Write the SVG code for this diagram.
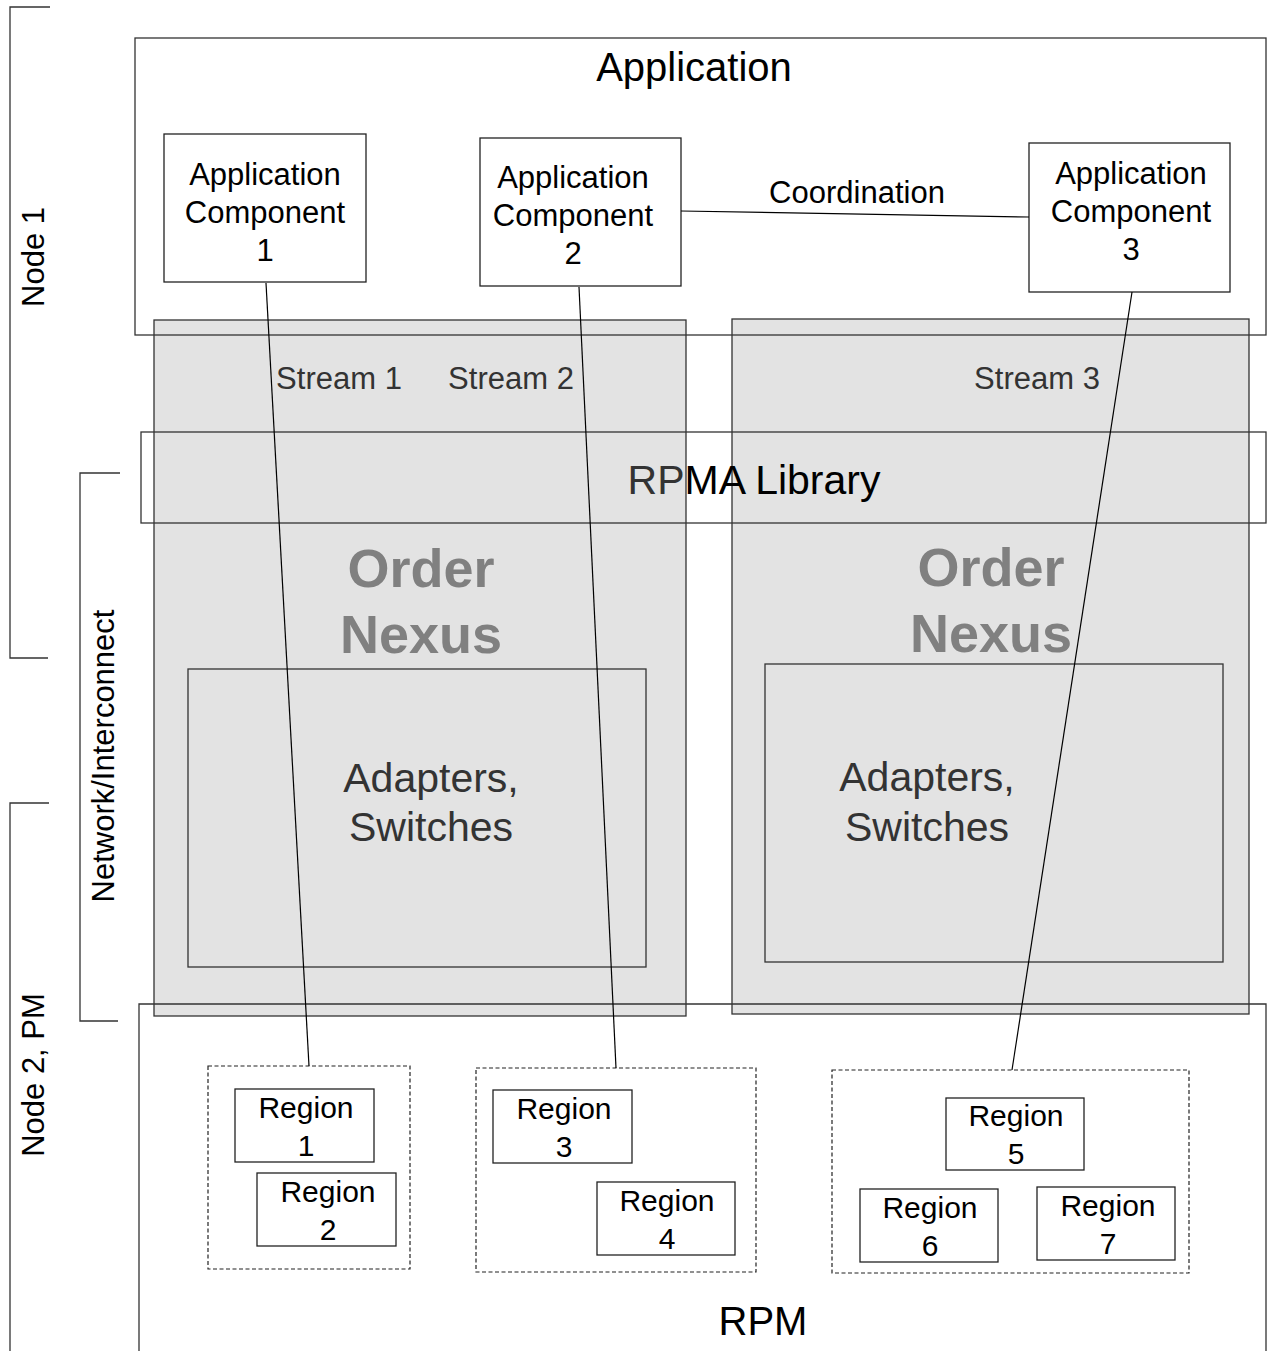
<svg xmlns="http://www.w3.org/2000/svg" width="1271" height="1351" viewBox="0 0 1271 1351">
<style>
text{font-family:"Liberation Sans",Arial,sans-serif;fill:#000;text-anchor:middle}
.box{fill:#fff;stroke:#222;stroke-width:1.3}
.outline{fill:none;stroke:#333;stroke-width:1.3}
.gray{fill:#e3e3e3;stroke:#333;stroke-width:1.3}
.dash{fill:none;stroke:#222;stroke-width:1.2;stroke-dasharray:4,2.5}
.brk{fill:none;stroke:#333;stroke-width:1.3}
.conn{fill:none;stroke:#000;stroke-width:1.2}
.t31{font-size:31px}
.t30{font-size:30px}
.t41{font-size:41px}
.t40{font-size:40px}
.on{font-weight:bold;font-size:54px;fill:#808080}
.dk{fill:#333}
</style>
<rect width="1271" height="1351" fill="#fff"/>

<g id="bracket-node1">
<path class="brk" d="M50,7 H10 V658 H48"/>
<text class="t31" transform="translate(44,257) rotate(-90)" font-size="33">Node 1</text>
</g>
<g id="bracket-network">
<path class="brk" d="M120,473 H80 V1021 H118"/>
<text class="t31" transform="translate(114,756) rotate(-90)" font-size="32">Network/Interconnect</text>
</g>
<g id="bracket-node2">
<path class="brk" d="M49,803 H10 V1351"/>
<text class="t31" transform="translate(44,1075) rotate(-90)" font-size="33">Node 2, PM</text>
</g>

<g id="order-nexus-1">
<rect class="gray" x="154" y="320" width="532" height="696"/>
<text class="on" x="421" y="587">Order</text>
<text class="on" x="421" y="653">Nexus</text>
</g>
<g id="order-nexus-2">
<rect class="gray" x="732" y="319" width="517" height="695"/>
<text class="on" x="991" y="586">Order</text>
<text class="on" x="991" y="652">Nexus</text>
</g>

<g id="adapters-1">
<rect class="outline" x="188" y="669" width="458" height="298"/>
<text class="t41 dk" x="431" y="792">Adapters,</text>
<text class="t41 dk" x="431" y="841">Switches</text>
</g>
<g id="adapters-2">
<rect class="outline" x="765" y="664" width="458" height="298"/>
<text class="t41 dk" x="927" y="791">Adapters,</text>
<text class="t41 dk" x="927" y="841">Switches</text>
</g>

<g id="application">
<rect class="outline" x="135" y="38" width="1131" height="297"/>
<text class="t40" x="694" y="81">Application</text>
</g>

<g id="rpma-library">
<rect class="outline" x="141" y="432" width="1125" height="91"/>
<text class="t41" x="754" y="494"><tspan fill="#333">RP</tspan>MA Library</text>
</g>

<g id="rpm">
<path class="outline" d="M139,1351 V1004 H1266 V1351"/>
<text class="t40" x="763" y="1335">RPM</text>
</g>

<g id="app-comp-1">
<rect class="box" x="164" y="134" width="202" height="148"/>
<text class="t31" x="265" y="185">Application</text>
<text class="t31" x="265" y="223">Component</text>
<text class="t31" x="265" y="261">1</text>
</g>
<g id="app-comp-2">
<rect class="box" x="480" y="138" width="201" height="148"/>
<text class="t31" x="573" y="188">Application</text>
<text class="t31" x="573" y="226">Component</text>
<text class="t31" x="573" y="264">2</text>
</g>
<g id="app-comp-3">
<rect class="box" x="1029" y="143" width="201" height="149"/>
<text class="t31" x="1131" y="184">Application</text>
<text class="t31" x="1131" y="222">Component</text>
<text class="t31" x="1131" y="260">3</text>
</g>

<g id="region-group-1">
<rect class="dash" x="208" y="1066" width="202" height="203"/>
</g>
<g id="region-1">
<rect class="box" x="235" y="1089" width="139" height="73"/>
<text class="t30" x="306" y="1118">Region</text>
<text class="t30" x="306" y="1156">1</text>
</g>
<g id="region-2">
<rect class="box" x="257" y="1173" width="139" height="73"/>
<text class="t30" x="328" y="1202">Region</text>
<text class="t30" x="328" y="1240">2</text>
</g>

<g id="region-group-2">
<rect class="dash" x="476" y="1068" width="280" height="204"/>
</g>
<g id="region-3">
<rect class="box" x="493" y="1090" width="139" height="73"/>
<text class="t30" x="564" y="1119">Region</text>
<text class="t30" x="564" y="1157">3</text>
</g>
<g id="region-4">
<rect class="box" x="597" y="1182" width="138" height="73"/>
<text class="t30" x="667" y="1211">Region</text>
<text class="t30" x="667" y="1249">4</text>
</g>

<g id="region-group-3">
<rect class="dash" x="832" y="1070" width="357" height="203"/>
</g>
<g id="region-5">
<rect class="box" x="946" y="1098" width="138" height="72"/>
<text class="t30" x="1016" y="1126">Region</text>
<text class="t30" x="1016" y="1164">5</text>
</g>
<g id="region-6">
<rect class="box" x="860" y="1189" width="138" height="73"/>
<text class="t30" x="930" y="1218">Region</text>
<text class="t30" x="930" y="1256">6</text>
</g>
<g id="region-7">
<rect class="box" x="1037" y="1187" width="138" height="73"/>
<text class="t30" x="1108" y="1216">Region</text>
<text class="t30" x="1108" y="1254">7</text>
</g>

<g id="connectors">
<line class="conn" x1="681" y1="211" x2="1029" y2="217"/>
<text class="t31" x="857" y="203">Coordination</text>
<line class="conn" x1="266" y1="283" x2="309" y2="1066"/>
<text class="t31 dk" x="339" y="389">Stream 1</text>
<line class="conn" x1="579" y1="287" x2="616" y2="1068"/>
<text class="t31 dk" x="511" y="389">Stream 2</text>
<line class="conn" x1="1132" y1="292" x2="1012" y2="1070"/>
<text class="t31 dk" x="1037" y="389">Stream 3</text>
</g>
</svg>
